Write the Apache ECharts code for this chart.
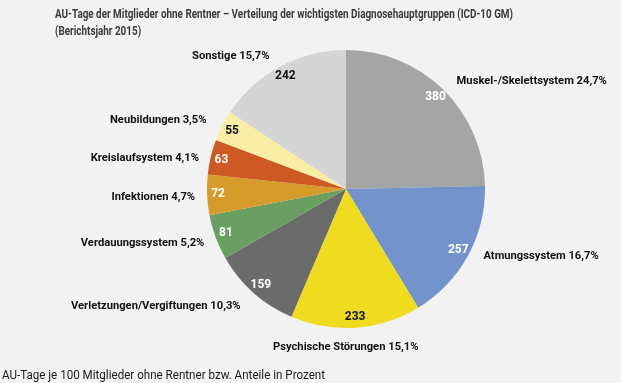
<!DOCTYPE html>
<html><head><meta charset="utf-8">
<script src="https://cdn.jsdelivr.net/npm/echarts@6/dist/echarts.min.js"></script>
<style>html,body{margin:0;padding:0;background:#f2f2f2;}#c{width:621px;height:383px;}</style>
</head><body><div id="c"></div>
<script>
const categories = ['Muskel-/Skelettsystem','Atmungssystem','Psychische Störungen','Verletzungen/Vergiftungen','Verdauungssystem','Infektionen','Kreislaufsystem','Neubildungen','Sonstige'];
const values = [380, 257, 233, 159, 81, 72, 63, 55, 242];
const shares = ['24,7%','16,7%','15,1%','10,3%','5,2%','4,7%','4,1%','3,5%','15,7%'];
const colors = ['#a5a5a5','#7293cb','#f0dc1e','#6b6b6b','#69a062','#d69b2b','#cc5a22','#f8eea4','#d5d5d5'];
const valueLabelColors = ['#fff','#fff','#111','#fff','#fff','#fff','#fff','#111','#111'];
const titleLines = ['AU-Tage der Mitglieder ohne Rentner – Verteilung der wichtigsten Diagnosehauptgruppen (ICD-10 GM)','(Berichtsjahr 2015)'];
const footnote = 'AU-Tage je 100 Mitglieder ohne Rentner bzw. Anteile in Prozent';
const FONT = 'Roboto, sans-serif';

const cv = document.createElement('canvas').getContext('2d');
function fitScale(text, font, target){ cv.font = font; return target / cv.measureText(text).width; }
const titleFont = 'bold 13px ' + FONT;
const titleScale = fitScale(titleLines[0], titleFont, 458);
const footFont = '12.5px ' + FONT;
const footScale = fitScale(footnote, footFont, 323);

const chart = echarts.init(document.getElementById('c'));
const data = categories.map((c,i)=>({name:c, value:values[i], itemStyle:{color:colors[i]}}));
chart.setOption({
  backgroundColor:'#f2f2f2',
  animation:false,
  graphic:[
    {type:'text', x:55, y:6, scaleX:titleScale, silent:true,
      style:{text:titleLines.join('\n'), font:titleFont, fill:'#3a3a3a', lineHeight:17, align:'left', verticalAlign:'top'}},
    {type:'text', x:2, y:369, scaleX:footScale, silent:true,
      style:{text:footnote, font:footFont, fill:'#1a1a1a', align:'left', verticalAlign:'top'}}
  ],
  series:[
    {
      type:'pie', center:[346,189], radius:[0,139], startAngle:90, clockwise:true,
      data:data, silent:true,
      label:{show:true, position:'outside', fontFamily:FONT, fontSize:11.2, fontWeight:'bold', color:'#111', overflow:'none',
        formatter:p=>p.name+' '+shares[p.dataIndex]},
      labelLine:{show:false, length:12, length2:0},
      labelLayout:function(p){
        const pt = p.labelLinePoints ? p.labelLinePoints[1] : null;
        if (!pt) return {};
        if (p.dataIndex === 2) return {x: pt[0]-11, y: pt[1]+8, align:'center', verticalAlign:'middle'};
        if (p.dataIndex === 3) return {dy: 4};
        if (p.dataIndex >= 4 && p.dataIndex <= 6) return {dx: 5, dy: p.dataIndex===6 ? 4 : 2};
        if (p.dataIndex === 1) return {dy: -5};
        return {};
      }
    },
    {
      type:'pie', center:[346,189], radius:[111,139], startAngle:90, clockwise:true, silent:true,
      data:categories.map((c,i)=>({name:c, value:values[i], itemStyle:{color:'rgba(0,0,0,0)'},
        label:{color:valueLabelColors[i]}})),
      label:{show:true, position:'inside', fontFamily:FONT, fontSize:12, fontWeight:'bold', formatter:'{c}'},
      labelLine:{show:false}
    }
  ]
});
</script></body></html>
